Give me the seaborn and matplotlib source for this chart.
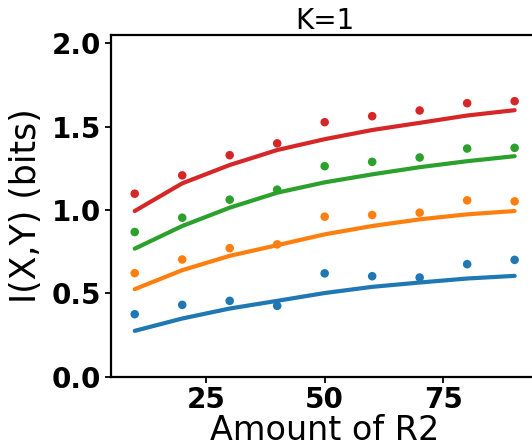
import matplotlib
matplotlib.use("Agg")
import matplotlib.pyplot as plt
import numpy as np
import pandas as pd
import seaborn as sns

# Amount of R2 (x values shared by every series)
amount_r2 = [10, 20, 30, 40, 50, 60, 70, 80, 90]

# Measured mutual information (dots)
measured_blue = [0.375, 0.431, 0.455, 0.425, 0.620, 0.603, 0.595, 0.675, 0.701]
measured_orange = [0.621, 0.703, 0.771, 0.794, 0.960, 0.970, 0.984, 1.058, 1.052]
measured_green = [0.868, 0.954, 1.062, 1.122, 1.263, 1.289, 1.315, 1.369, 1.373]
measured_red = [1.098, 1.208, 1.329, 1.400, 1.527, 1.563, 1.597, 1.641, 1.653]

# Predicted mutual information (solid curves)
predicted_blue = [0.275, 0.349, 0.409, 0.455, 0.502, 0.539, 0.565, 0.589, 0.605]
predicted_orange = [0.525, 0.639, 0.725, 0.789, 0.854, 0.904, 0.944, 0.974, 0.994]
predicted_green = [0.768, 0.904, 1.014, 1.104, 1.166, 1.214, 1.257, 1.293, 1.323]
predicted_red = [0.994, 1.160, 1.270, 1.360, 1.425, 1.480, 1.523, 1.567, 1.599]

series_names = ["s1", "s2", "s3", "s4"]
measured = [measured_blue, measured_orange, measured_green, measured_red]
predicted = [predicted_blue, predicted_orange, predicted_green, predicted_red]

y_ticks = [0.0, 0.5, 1.0, 1.5, 2.0]
x_ticks = [25, 50, 75]

rows = []
for name, meas, pred in zip(series_names, measured, predicted):
    for xv, mv, pv in zip(amount_r2, meas, pred):
        rows.append({"series": name, "amount": xv, "measured": mv, "predicted": pv})
df = pd.DataFrame(rows)

sns.set_style("ticks")
plt.rcParams["font.family"] = ["DejaVu Sans"]
plt.rcParams["text.color"] = "black"
plt.rcParams["axes.labelcolor"] = "black"
plt.rcParams["xtick.color"] = "black"
plt.rcParams["ytick.color"] = "black"

palette = dict(zip(series_names, sns.color_palette("tab10", 4)))

fig = plt.figure(figsize=(5.32, 4.46), dpi=100)
ax = fig.add_axes([0.2086, 0.1554, 0.8034, 0.7661])

sns.lineplot(data=df, x="amount", y="predicted", hue="series", palette=palette,
             linewidth=3.0, legend=False, ax=ax)
sns.scatterplot(data=df, x="amount", y="measured", hue="series", palette=palette,
                s=38, linewidth=0, legend=False, ax=ax, zorder=3)

ax.set_xlim(5, 95)
ax.set_ylim(0, 2.05)
ax.set_xticks(x_ticks)
ax.set_yticks(y_ticks)
ax.set_yticklabels([f"{v:.1f}" for v in y_ticks])

ax.tick_params(axis="both", labelsize=20, length=4, width=1.3, direction="out",
               pad=3, colors="black")
for lbl in ax.get_xticklabels() + ax.get_yticklabels():
    lbl.set_fontweight("bold")

for side in ["left", "bottom", "top", "right"]:
    ax.spines[side].set_linewidth(1.6)
    ax.spines[side].set_color("black")

ax.set_xlabel("Amount of R2", fontsize=24, labelpad=0, color="black")
ax.set_ylabel("I(X,Y) (bits)", fontsize=25, labelpad=6, color="black")
ax.set_title("K=1", fontsize=20, pad=3, color="black")

fig.savefig("out.png", dpi=100, facecolor="white")
